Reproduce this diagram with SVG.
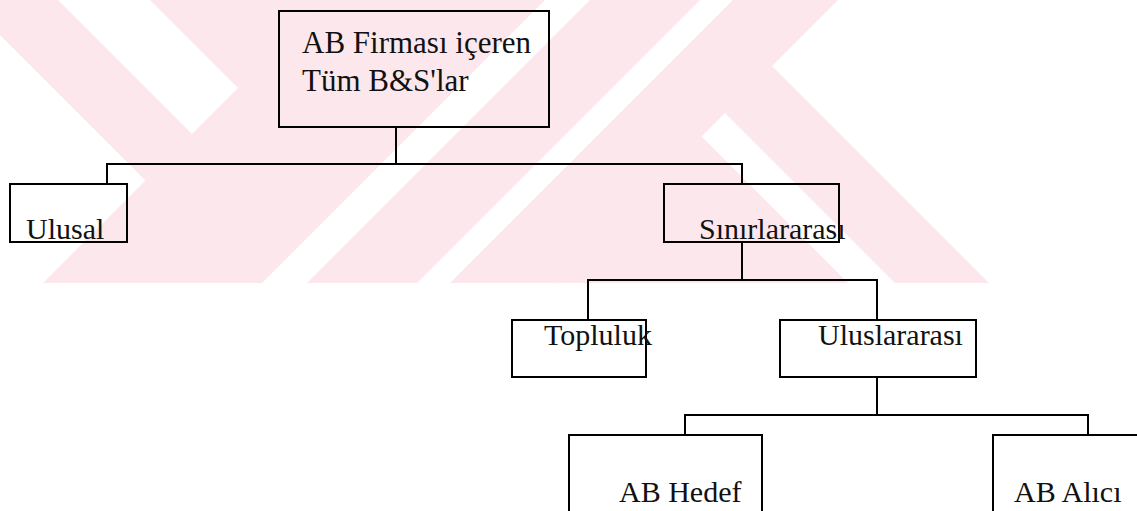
<svg xmlns="http://www.w3.org/2000/svg" width="1137" height="511" viewBox="0 0 1137 511">
  <style>
    .wm { fill: #fce8ec; stroke: none; }
    .box { fill: none; stroke: #000; stroke-width: 2; }
    .conn { fill: none; stroke: #000; stroke-width: 2; }
    .lbl { font-family: "Liberation Serif", "Times New Roman", serif; font-size: 30px; fill: #111; }
    .big { font-size: 31px; }
  </style>
  <rect x="0" y="0" width="1137" height="511" fill="#ffffff"/>
  <g id="watermark">
    <polygon class="wm" points="-35,0 58,0 192,134 145.5,180.5"/>
    <polygon class="wm" points="150,0 326,0 238,88"/>
    <polygon class="wm" points="326,0 545,0 262,283 43,283"/>
    <polygon class="wm" points="590,0 700,0 417,283 307,283"/>
    <polygon class="wm" points="733,0 838,0 555,283 450,283"/>
    <polygon class="wm" points="701.5,136.5 848,283 555,283"/>
    <polygon class="wm" points="725,113 772,66 989,283 895,283"/>
  </g>
  <g id="connectors">
    <path class="conn" d="M396 127 V164"/>
    <path class="conn" d="M107 184 V164 H742 V184"/>
    <path class="conn" d="M742 242 V280"/>
    <path class="conn" d="M588 320 V280 H877 V320"/>
    <path class="conn" d="M877 377 V415"/>
    <path class="conn" d="M685 435 V415 H1088 V435"/>
  </g>
  <g id="node-root">
    <rect class="box" x="279" y="11" width="270" height="116"/>
    <text class="lbl big" x="302" y="53">AB Firması içeren</text>
    <text class="lbl big" x="302" y="91">Tüm B&amp;S'lar</text>
  </g>
  <g id="node-ulusal">
    <rect class="box" x="10" y="184" width="117" height="58"/>
    <text class="lbl" x="26" y="239">Ulusal</text>
  </g>
  <g id="node-sinirlararasi">
    <rect class="box" x="664" y="184" width="175" height="58"/>
    <text class="lbl" x="699" y="239">Sınırlararası</text>
  </g>
  <g id="node-topluluk">
    <rect class="box" x="512" y="320" width="134" height="57"/>
    <text class="lbl" x="544" y="345">Topluluk</text>
  </g>
  <g id="node-uluslararasi">
    <rect class="box" x="780" y="320" width="196" height="57"/>
    <text class="lbl" x="818" y="345">Uluslararası</text>
  </g>
  <g id="node-ab-hedef">
    <rect class="box" x="569" y="435" width="193" height="90"/>
    <text class="lbl" x="619" y="502">AB Hedef</text>
  </g>
  <g id="node-ab-alici">
    <rect class="box" x="993" y="435" width="170" height="90"/>
    <text class="lbl" x="1014" y="502">AB Alıcı</text>
  </g>
</svg>
